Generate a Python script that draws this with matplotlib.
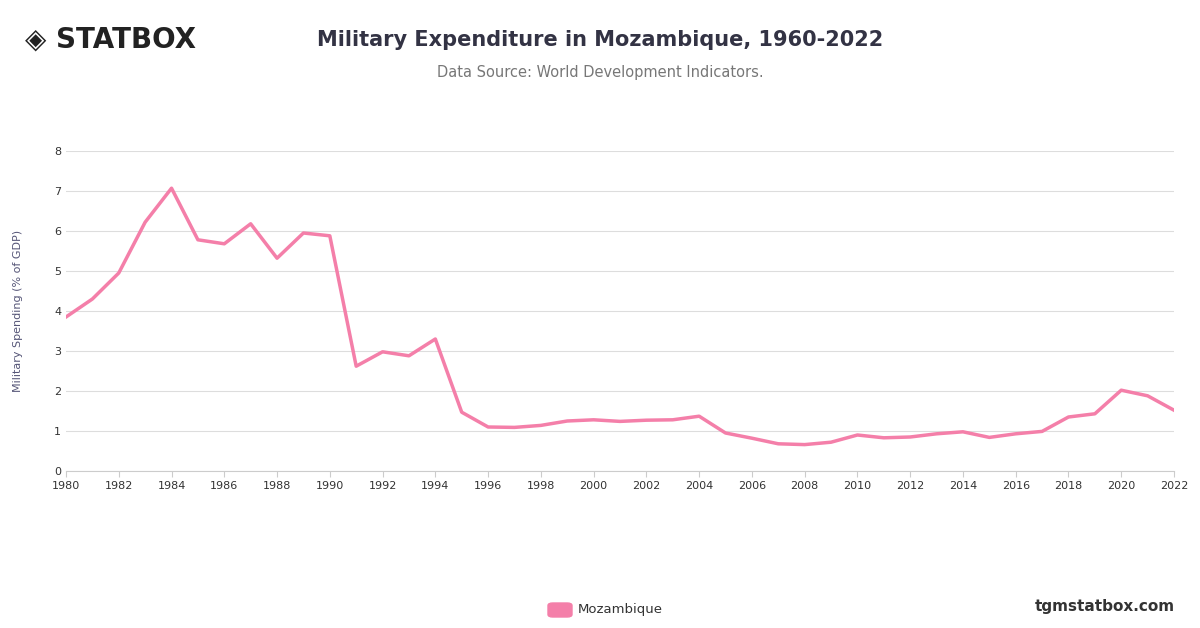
import matplotlib
matplotlib.use("Agg")
import matplotlib.pyplot as plt
from matplotlib.patches import FancyBboxPatch

years = list(range(1980, 2023))
values = [3.85, 4.3, 4.95, 6.22, 7.07, 5.78, 5.68, 6.18, 5.32, 5.95, 5.88,
          2.62, 2.98, 2.88, 3.3, 1.47, 1.1, 1.09, 1.14, 1.25, 1.28, 1.24,
          1.27, 1.28, 1.37, 0.95, 0.82, 0.68, 0.66, 0.72, 0.9, 0.83, 0.85,
          0.93, 0.98, 0.84, 0.93, 0.99, 1.35, 1.43, 2.02, 1.88, 1.52]
xticks = list(range(1980, 2023, 2))
yticks = list(range(0, 9))
color = "#f47fa9"

fig = plt.figure(figsize=(12, 6.28), dpi=100)
ax = fig.add_axes([66/1200, 1-471/628, 1108/1200, 320/628])
ax.plot(years, values, color=color, lw=2.5)
ax.set_xlim(1980, 2022)
ax.set_ylim(0, 8)
ax.set_xticks(xticks)
ax.set_yticks(yticks)
ax.tick_params(labelsize=8, colors="#333333", length=0)
ax.tick_params(axis='x', length=4, color="#cccccc")
ax.grid(axis='y', color="#dddddd", lw=0.8)
for s in ['top', 'right', 'left']:
    ax.spines[s].set_visible(False)
ax.spines['bottom'].set_color("#cccccc")
ax.set_ylabel("Military Spending (% of GDP)", fontsize=8, color="#555577")
ax.yaxis.set_label_coords(-43/1108, 0.5)

fig.text(0.5, 1-40/628, "Military Expenditure in Mozambique, 1960-2022", ha='center', va='center',
         fontsize=15, fontweight='bold', color="#333344")
fig.text(0.5, 1-72/628, "Data Source: World Development Indicators.", ha='center', va='center',
         fontsize=10.5, color="#777777")
fig.text(25/1200, 1-40/628, "◈ STATBOX", ha='left', va='center', fontsize=20, fontweight='bold', color="#222222")
fig.text(1175/1200, 1-607/628, "tgmstatbox.com", ha='right', va='center', fontsize=11, fontweight='bold', color="#333333")
fig.patches.append(FancyBboxPatch((548/1200, 1-617/628), 24/1200, 14/628, boxstyle="round,pad=0,rounding_size=0.004",
                                  transform=fig.transFigure, color=color))
fig.text(578/1200, 1-610/628, "Mozambique", ha='left', va='center', fontsize=9.5, color="#333333")
fig.savefig("out.png", dpi=100)
